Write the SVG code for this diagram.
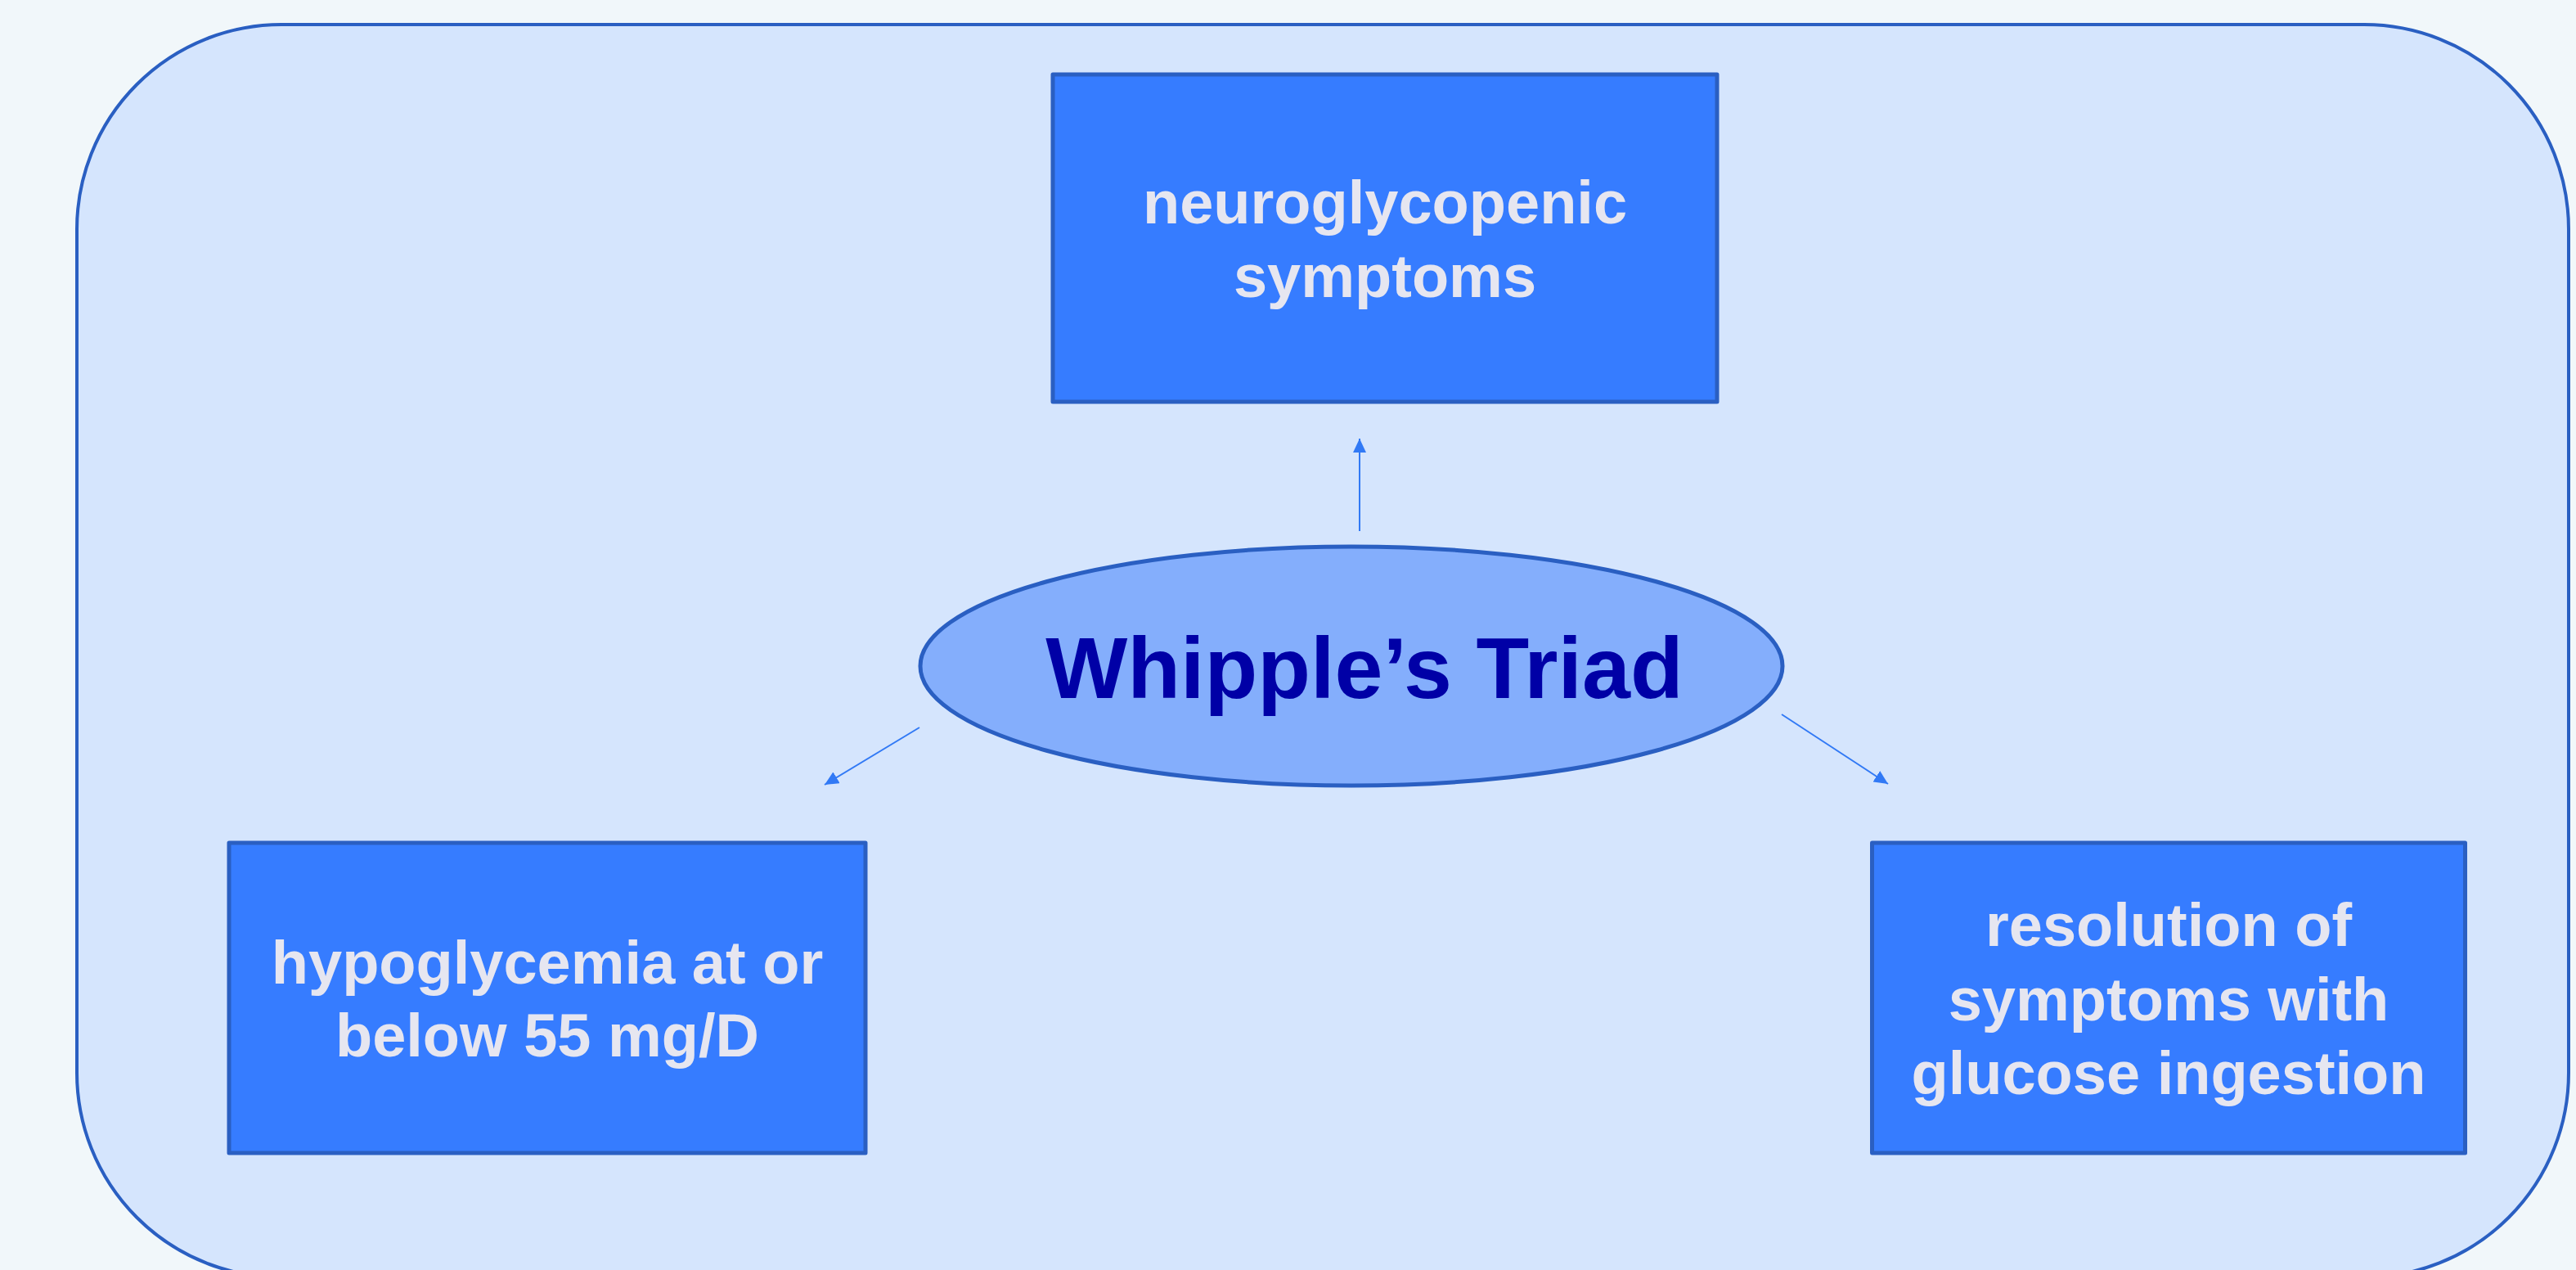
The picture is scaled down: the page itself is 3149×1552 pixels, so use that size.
<svg xmlns="http://www.w3.org/2000/svg" width="3149" height="1552" viewBox="0 0 3149 1552">
<style>
.box{fill:#367cff;stroke:#2a5fc2;stroke-width:5;stroke-linejoin:round}
.lbl{font-family:"Liberation Sans",Arial,sans-serif;font-weight:bold;font-size:74px;fill:#e6e6f0;text-anchor:middle}
.conn{stroke:#3179f5;stroke-width:2;fill:none}
</style>
<defs>
<marker id="ah" markerUnits="userSpaceOnUse" markerWidth="18" markerHeight="16" refX="17" refY="8" orient="auto">
<path d="M0,0 L17,8 L0,16 z" fill="#3179f5"/>
</marker>
</defs>
<rect width="3149" height="1552" fill="#f1f7fa"/>
<g id="container">
<rect x="94" y="30" width="3046" height="1531" rx="250" ry="250" fill="#d5e5fd" stroke="#2a5fc2" stroke-width="4"/>
</g>
<g id="connectors">
<line class="conn" x1="1662" y1="649" x2="1662" y2="536" marker-end="url(#ah)"/>
<line class="conn" x1="1124" y1="889" x2="1008" y2="959" marker-end="url(#ah)"/>
<line class="conn" x1="2178" y1="873" x2="2308" y2="958" marker-end="url(#ah)"/>
</g>
<g id="node-center">
<ellipse cx="1652" cy="814" rx="527" ry="146" fill="#84aefc" stroke="#2a5fc2" stroke-width="5"/>
<text x="1668" y="853" font-family="'Liberation Sans',Arial,sans-serif" font-weight="bold" font-size="106" fill="#0000a6" text-anchor="middle">Whipple’s Triad</text>
</g>
<g id="node-top">
<rect class="box" x="1287" y="91" width="812" height="400"/>
<text class="lbl" x="1693" y="273">neuroglycopenic</text>
<text class="lbl" x="1693" y="363">symptoms</text>
</g>
<g id="node-left">
<rect class="box" x="280" y="1030" width="778" height="379"/>
<text class="lbl" x="669" y="1202">hypoglycemia at or</text>
<text class="lbl" x="669" y="1291">below 55 mg/D</text>
</g>
<g id="node-right">
<rect class="box" x="2288.5" y="1030" width="725" height="379"/>
<text class="lbl" x="2651" y="1156">resolution of</text>
<text class="lbl" x="2651" y="1247">symptoms with</text>
<text class="lbl" x="2651" y="1337">glucose ingestion</text>
</g>
</svg>
